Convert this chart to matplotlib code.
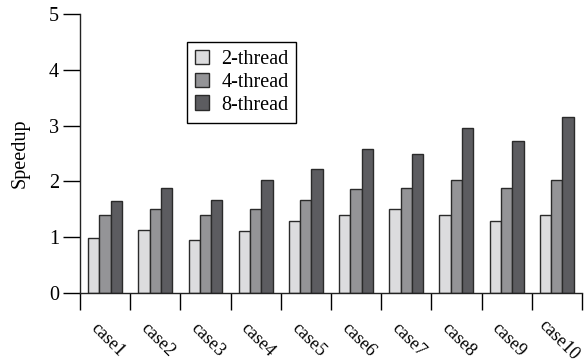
import numpy as np
import matplotlib
matplotlib.use('Agg')
import matplotlib.pyplot as plt
from matplotlib.transforms import ScaledTranslation

cases = ['case1', 'case2', 'case3', 'case4', 'case5',
         'case6', 'case7', 'case8', 'case9', 'case10']
thread2 = [0.98, 1.13, 0.95, 1.11, 1.29, 1.40, 1.51, 1.40, 1.29, 1.40]
thread4 = [1.40, 1.51, 1.40, 1.51, 1.66, 1.87, 1.88, 2.03, 1.88, 2.03]
thread8 = [1.65, 1.88, 1.66, 2.03, 2.22, 2.58, 2.49, 2.96, 2.73, 3.15]
series_names = ['2-thread', '4-thread', '8-thread']
colors = ['#dcdcde', '#949497', '#5c5c60']

plt.rcParams['font.family'] = ['Liberation Serif', 'DejaVu Serif']

fig = plt.figure(figsize=(5.86, 3.62), dpi=100)
ax = fig.add_axes([0.1365, 0.1906, 0.8565, 0.7707])

x = np.arange(len(cases))
w = 0.225
for k, (vals, name, c) in enumerate(zip([thread2, thread4, thread8], series_names, colors)):
    ax.bar(x + (k - 1) * w, vals, w, color=c, edgecolor='#2a2a2a',
           linewidth=1.0, label=name)

ax.set_xlim(-0.5, len(cases) - 0.5)
ax.set_ylim(0, 5)
ax.set_yticks(range(6))
ax.tick_params(axis='y', labelsize=14.5, length=12, width=1, direction='out', pad=3)

# tick marks at group boundaries, labels at group centres
ax.set_xticks(np.arange(-0.5, len(cases), 1.0))
ax.set_xticklabels([])
ax.set_xticks(x, minor=True)
ax.set_xticklabels(cases, minor=True, rotation=-45, ha='center', va='center', fontsize=13)
ax.tick_params(axis='x', which='major', length=12, width=1, direction='out')
ax.tick_params(axis='x', which='minor', length=0, pad=34)
offset = ScaledTranslation(0.025, 0, fig.dpi_scale_trans)
for lbl in ax.get_xticklabels(minor=True):
    lbl.set_transform(lbl.get_transform() + offset)

ax.set_ylabel('Speedup', fontsize=14.5, labelpad=14)

for s in ['top', 'right']:
    ax.spines[s].set_visible(False)
for s in ['left', 'bottom']:
    ax.spines[s].set_linewidth(1)
    ax.spines[s].set_color('#222222')

leg = ax.legend(loc='upper left', bbox_to_anchor=(0.213, 0.90), fontsize=14.5,
                fancybox=False, edgecolor='black', framealpha=1,
                handlelength=0.7, handleheight=0.7, handletextpad=0.6,
                borderpad=0.4, labelspacing=0.18, borderaxespad=0)
leg.get_frame().set_linewidth(1)

fig.savefig('out.png', dpi=100)
